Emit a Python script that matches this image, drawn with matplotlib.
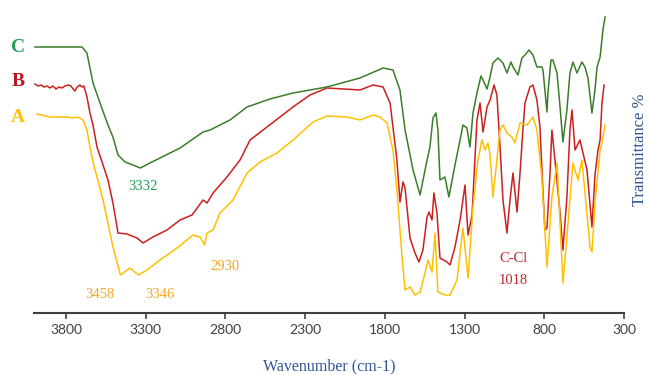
import matplotlib
matplotlib.use("Agg")
from matplotlib import pyplot as plt

# FTIR spectra, wavenumber (cm-1) vs transmittance (arbitrary offset units)
wn_C = [3994, 3837, 3699, 3668, 3630, 3586, 3536, 3505, 3473, 3429, 3332, 3273, 3210, 3084,
        2940, 2896, 2771, 2664, 2520, 2376, 2163, 1956, 1811, 1749, 1705, 1673, 1623, 1579,
        1535, 1517, 1498, 1479, 1467, 1454, 1423, 1398, 1360, 1328, 1310, 1285, 1266, 1247,
        1222, 1197, 1184, 1159, 1140, 1122, 1090, 1059, 1034, 1009, 996, 965, 940, 921, 896,
        871, 846, 815, 808, 783, 777, 758, 746, 720, 701, 683, 658, 639, 620, 595, 564, 545,
        526, 501, 482, 469, 450, 432, 419]
T_C = [273, 273, 273, 267, 237, 217, 195, 183, 165, 158, 152, 157, 162, 172,
       188, 190, 200, 213, 221, 227, 233, 242, 252, 250, 230, 190, 150, 125,
       160, 173, 202, 207, 190, 140, 143, 123, 155, 180, 195, 192, 173, 207,
       227, 244, 240, 231, 243, 257, 262, 257, 247, 258, 253, 245, 262, 265, 270,
       265, 253, 253, 250, 208, 227, 260, 260, 247, 213, 178, 210, 247, 258, 247, 258, 253,
       242, 207, 230, 253, 263, 290, 303]

wn_B = [3994, 3975, 3956, 3937, 3918, 3900, 3881, 3862, 3843, 3824, 3806, 3787, 3768, 3755,
        3743, 3730, 3712, 3699, 3687, 3668, 3649, 3630, 3605,
        3567, 3536, 3505, 3473, 3417, 3354, 3316, 3254, 3166, 3084, 3009, 2972, 2940, 2915,
        2877, 2790, 2708, 2645, 2539, 2376, 2269, 2163, 1956, 1874, 1811, 1767, 1724, 1705,
        1686, 1673, 1642, 1611, 1586, 1561, 1535, 1523, 1504, 1492, 1473, 1454, 1410, 1391,
        1360, 1328, 1297, 1278, 1253, 1222, 1203, 1184, 1159, 1140, 1115, 1097, 1078, 1059,
        1034, 1015, 996, 971, 952, 934, 921, 890, 871, 846, 827, 808, 796, 783, 764, 752,
        733, 701, 683, 658, 639, 626, 607, 576, 532, 501, 482, 463, 450, 438, 425]
T_B = [236, 234, 235, 233, 234, 232, 234, 231, 233, 232, 234, 235, 234, 231,
       229, 233, 235, 233, 234, 223, 207, 195, 173,
       155, 140, 117, 87, 86, 82, 77, 83, 90, 100, 105, 113, 120, 117,
       127, 143, 160, 180, 193, 213, 225, 232, 230, 235, 233, 217, 160, 118,
       138, 132, 82, 67, 58, 70, 103, 108, 100, 127, 107, 62, 58, 55,
       73, 100, 135, 85, 105, 200, 217, 188, 213, 220, 235, 225, 175, 120,
       87, 120, 147, 108, 147, 190, 217, 233, 235, 220, 193, 127, 90, 92, 147, 190,
       160, 107, 70, 123, 190, 210, 170, 180, 150, 93, 145, 170, 180, 217, 235]

wn_A = [3981, 3900, 3793, 3755, 3724, 3693, 3668, 3649, 3630, 3567, 3505, 3458, 3398, 3346,
        3291, 3210, 3103, 3003, 2959, 2930, 2915, 2877, 2834, 2752, 2664, 2583, 2476, 2376,
        2250, 2163, 2037, 1956, 1874, 1830, 1786, 1749, 1724, 1692, 1673, 1642, 1611, 1579,
        1548, 1529, 1504, 1485, 1467, 1423, 1391, 1347, 1310, 1278, 1247, 1216, 1191, 1172,
        1153, 1140, 1122, 1097, 1078, 1059, 1034, 1003, 984, 952, 908, 871, 846, 815, 783,
        752, 720, 701, 683, 651, 620, 588, 564, 513, 501, 482, 450, 438, 419]
T_A = [206, 203, 203, 202, 203, 200, 190, 173, 158, 120, 73, 45, 52, 45,
       50, 60, 72, 85, 83, 75, 87, 90, 107, 120, 147, 158, 167, 180,
       198, 204, 203, 200, 205, 203, 197, 170, 130, 63, 30, 33, 25, 28,
       47, 60, 48, 87, 28, 25, 25, 40, 92, 42, 113, 160, 180, 170,
       177, 165, 123, 160, 190, 195, 187, 183, 177, 197, 195, 203, 190, 142, 53,
       123, 157, 97, 37, 97, 157, 140, 160, 73, 68, 117, 170, 177, 195]

xticks = [3800, 3300, 2800, 2300, 1800, 1300, 800, 300]

green = "#3b7d28"
red = "#cc1f1f"
yellow = "#ffc000"
blue = "#2f5496"
serif = "Liberation Serif"

fig = plt.figure(figsize=(6.49, 3.75), dpi=100)
ax = fig.add_axes([34/649, 1 - 313/375, 590/649, 313/375])

ax.plot(wn_C, T_C, color=green, lw=1.1)
ax.plot(wn_B, T_B, color=red, lw=1.1)
ax.plot(wn_A, T_A, color=yellow, lw=1.1)

ax.set_xlim(4000, 300)
ax.set_ylim(7, 320)
ax.set_xticks(xticks)
ax.set_xticklabels([str(t) for t in xticks], fontsize=10, color="#404040", family="Lato")
ax.set_yticks([])
for s in ["left", "right", "top"]:
    ax.spines[s].set_visible(False)
ax.spines["bottom"].set_color("#404040")
ax.spines["bottom"].set_linewidth(1.5)
ax.tick_params(axis="x", direction="out", length=4, width=1.2, color="#404040", pad=4)

# peak labels
ax.text(3316, 134, "3332", color="#22a050", fontsize=10.5, family=serif, ha="center", va="center")
ax.text(3586, 25, "3458", color="#f5a623", fontsize=10.5, family=serif, ha="center", va="center")
ax.text(3210, 25, "3346", color="#f5a623", fontsize=10.5, family=serif, ha="center", va="center")
ax.text(2802, 54, "2930", color="#f5a623", fontsize=10.5, family=serif, ha="center", va="center")
ax.text(996, 62, "C-Cl", color="#c0282e", fontsize=10.5, family=serif, ha="center", va="center")
ax.text(996, 39, "1018", color="#c0282e", fontsize=10.5, family=serif, ha="center", va="center")

# curve labels
fig.text(18/649, 1 - 47/375, "C", color="#22a050", fontsize=14, fontweight="bold", family=serif, ha="center", va="center")
fig.text(18/649, 1 - 82/375, "B", color="#c0141c", fontsize=14, fontweight="bold", family=serif, ha="center", va="center")
fig.text(18/649, 1 - 117/375, "A", color=yellow, fontsize=14, fontweight="bold", family=serif, ha="center", va="center")

fig.text(329/649, 1 - 366/375, "Wavenumber (cm-1)", color=blue, fontsize=11.5, family=serif, ha="center", va="center")
fig.text(640/649, 1 - 150/375, "Transmittance %", color=blue, fontsize=12, family=serif,
         rotation=90, ha="center", va="center")

fig.savefig("out.png", dpi=100)
